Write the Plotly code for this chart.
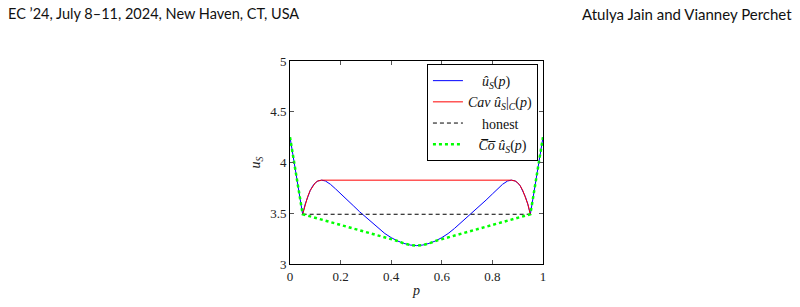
import plotly.graph_objects as go

# ---- data ----
p_blue = [0, 0.05, 0.06, 0.07, 0.08, 0.09, 0.10, 0.11, 0.125, 0.14, 0.16, 0.18, 0.20, 0.225,
          0.25, 0.275, 0.30, 0.325, 0.35, 0.375, 0.40, 0.425, 0.45, 0.475, 0.50, 0.525, 0.55,
          0.575, 0.60, 0.625, 0.65, 0.675, 0.70, 0.725, 0.75, 0.775, 0.80, 0.82, 0.84, 0.86,
          0.875, 0.89, 0.90, 0.91, 0.92, 0.93, 0.94, 0.95, 1.0]
u_blue = [4.25, 3.49, 3.59, 3.665, 3.725, 3.77, 3.80, 3.818, 3.826, 3.818, 3.785, 3.74, 3.69,
          3.63, 3.575, 3.515, 3.46, 3.405, 3.35, 3.30, 3.26, 3.227, 3.203, 3.187, 3.181, 3.187,
          3.203, 3.227, 3.26, 3.30, 3.35, 3.405, 3.46, 3.515, 3.575, 3.63, 3.69, 3.74, 3.785,
          3.818, 3.826, 3.818, 3.80, 3.77, 3.725, 3.665, 3.59, 3.49, 4.25]

p_cav = [0.05, 0.06, 0.07, 0.08, 0.09, 0.10, 0.11, 0.125, 0.875, 0.89, 0.90, 0.91, 0.92,
         0.93, 0.94, 0.95]
u_cav = [3.49, 3.59, 3.665, 3.725, 3.77, 3.80, 3.818, 3.826, 3.826, 3.818, 3.80, 3.77, 3.725,
         3.665, 3.59, 3.49]

p_honest = [0.05, 0.95]
u_honest = [3.49, 3.49]

p_co = [0, 0.05, 0.425, 0.45, 0.475, 0.5, 0.525, 0.55, 0.575, 0.95, 1.0]
u_co = [4.25, 3.49, 3.227, 3.203, 3.187, 3.181, 3.187, 3.203, 3.227, 3.49, 4.25]

x_ticks = [0, 0.2, 0.4, 0.6, 0.8, 1]
x_ticklabels = ["0", "0.2", "0.4", "0.6", "0.8", "1"]
y_ticks = [3, 3.5, 4, 4.5, 5]
y_ticklabels = ["3", "3.5", "4", "4.5", "5"]

serif = "Liberation Serif"

fig = go.Figure()
fig.add_trace(go.Scatter(x=p_blue, y=u_blue, mode="lines",
                         line=dict(color="#0000ff", width=1),
                         name="    <i>û<sub>S</sub></i>(<i>p</i>)"))
fig.add_trace(go.Scatter(x=p_cav, y=u_cav, mode="lines",
                         line=dict(color="#ff0000", width=1),
                         name="<i>Cav</i> <i>û<sub>S</sub></i>|<sub><i>C</i></sub>(<i>p</i>)"))
fig.add_trace(go.Scatter(x=p_honest, y=u_honest, mode="lines",
                         line=dict(color="#000000", width=1, dash="4px,3px"),
                         name="    honest"))
fig.add_trace(go.Scatter(x=p_co, y=u_co, mode="lines",
                         line=dict(color="#00ff00", width=2.5, dash="dot"),
                         name="   <i>C\u0305o\u0305</i> <i>û<sub>S</sub></i>(<i>p</i>)"))

axis_common = dict(showgrid=False, zeroline=False, showline=True, linecolor="black",
                   linewidth=1, mirror="ticks", ticks="inside", ticklen=4,
                   tickcolor="#555555", tickfont=dict(family=serif, size=13, color="#222"))

fig.update_xaxes(range=[0, 1], tickvals=x_ticks, ticktext=x_ticklabels,
                 title=dict(text="<i>p</i>", font=dict(family=serif, size=14, color="#222"),
                            standoff=2),
                 **axis_common)
fig.update_yaxes(range=[3, 5], tickvals=y_ticks, ticktext=y_ticklabels,
                 title=dict(text="<i>u<sub>S</sub></i>",
                            font=dict(family=serif, size=14, color="#222"), standoff=6),
                 **axis_common)

fig.update_layout(
    width=800, height=307,
    margin=dict(l=290, r=257, t=61, b=36),
    paper_bgcolor="white", plot_bgcolor="white",
    showlegend=True,
    legend=dict(x=0.98, y=0.985, xanchor="right", yanchor="top",
                bordercolor="black", borderwidth=1, bgcolor="white",
                font=dict(family=serif, size=14, color="#111"),
                tracegroupgap=0, itemwidth=30),
    annotations=[
        dict(text="EC ’24, July 8–11, 2024, New Haven, CT, USA", xref="paper", yref="paper",
             x=(6 - 290) / 253, y=1 + (61 - 12) / 210, xanchor="left", yanchor="middle",
             showarrow=False, font=dict(family="Lato", size=14.5, color="#111")),
        dict(text="Atulya Jain and Vianney Perchet", xref="paper", yref="paper",
             x=(794 - 290) / 253, y=1 + (61 - 12) / 210, xanchor="right", yanchor="middle",
             showarrow=False, font=dict(family="Lato", size=15, color="#111")),
    ],
)

fig.write_html("out.html")
